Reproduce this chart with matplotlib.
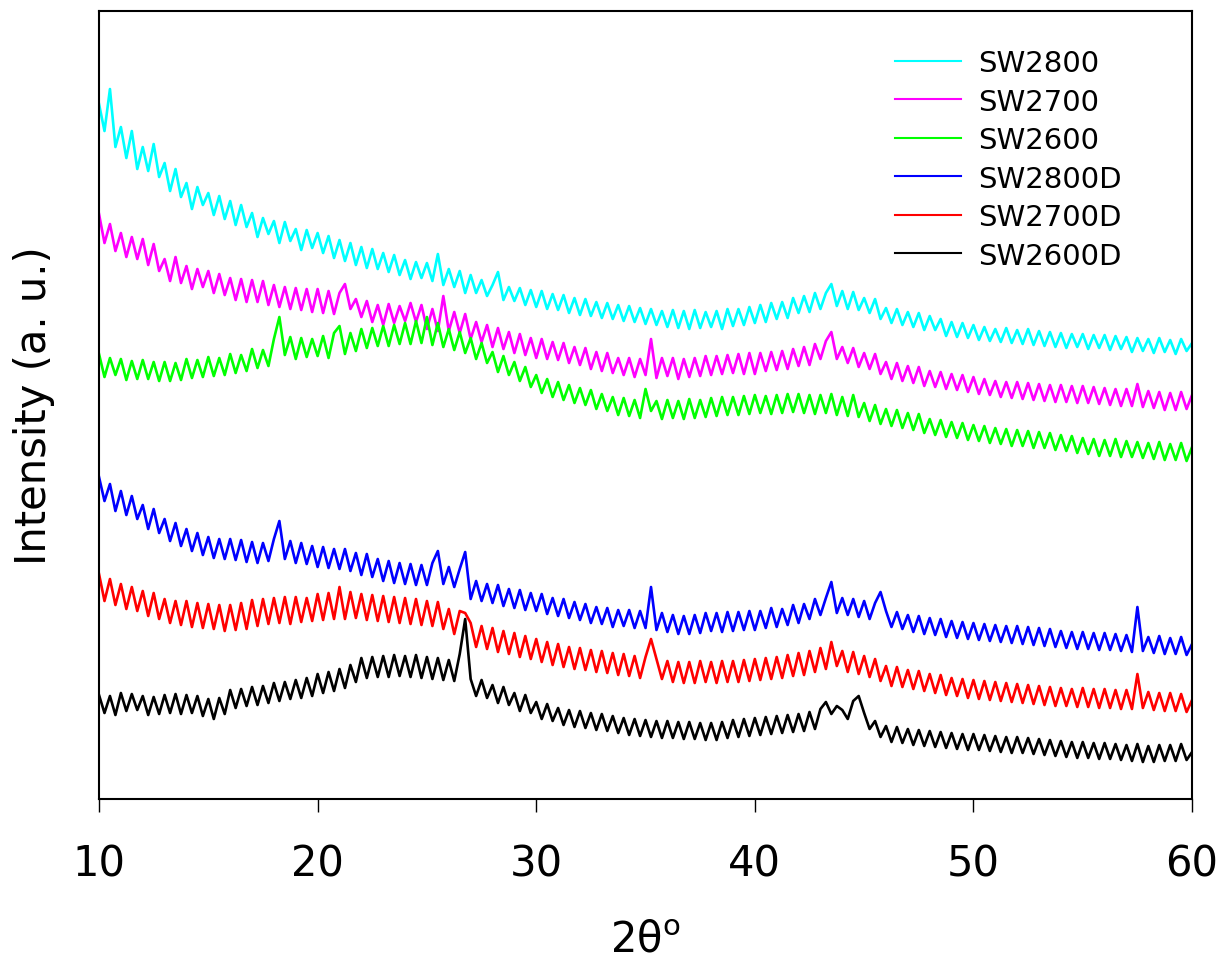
import numpy as np
import matplotlib
matplotlib.use('Agg')
from matplotlib import pyplot as plt

# 2theta scan grid, 0.25 deg steps
two_theta = np.linspace(10, 60, 201)

labels = ['SW2800', 'SW2700', 'SW2600', 'SW2800D', 'SW2700D', 'SW2600D']
colors = ['#00FFFF', '#FF00FF', '#00FF00', '#0000FF', '#FF0000', '#000000']

# intensities (a. u., offset stacked), one row per degree
sw2800 = [
    695, 668, 710, 652, 672, 641, 668, 630, 652, 628, 655, 622, 636, 608, 630, 602,
    616, 590, 612, 594, 606, 584, 603, 580, 598, 574, 594, 572, 586, 562, 581, 565,
    578, 556, 577, 558, 570, 549, 569, 551, 566, 546, 563, 541, 559, 538, 556, 534,
    552, 531, 550, 530, 546, 527, 544, 524, 539, 520, 537, 521, 536, 518, 545, 514,
    530, 512, 528, 506, 524, 506, 519, 503, 514, 527, 499, 512, 498, 511, 494, 509,
    492, 508, 490, 505, 489, 504, 486, 501, 484, 500, 483, 497, 481, 496, 480, 494,
    478, 493, 477, 491, 475, 490, 474, 488, 472, 489, 471, 488, 470, 489, 471, 487,
    472, 488, 470, 490, 473, 490, 474, 492, 476, 494, 477, 496, 480, 497, 481, 501,
    486, 503, 487, 506, 490, 506, 515, 493, 508, 490, 507, 489, 501, 486, 500, 480,
    491, 476, 490, 474, 487, 472, 486, 469, 483, 469, 480, 463, 477, 462, 476, 461,
    474, 459, 472, 458, 470, 457, 471, 456, 469, 455, 470, 454, 468, 453, 467, 452,
    466, 451, 465, 452, 465, 450, 464, 451, 464, 449, 463, 450, 462, 447, 461, 448,
    460, 446, 461, 447, 459, 445, 460, 448, 456]
sw2700 = [
    585, 556, 575, 548, 566, 542, 562, 540, 560, 534, 555, 528, 540, 518, 542, 516,
    533, 510, 530, 512, 528, 506, 525, 504, 521, 499, 520, 497, 519, 497, 518, 494,
    514, 492, 512, 490, 511, 489, 510, 487, 510, 486, 508, 485, 506, 515, 490, 500,
    482, 498, 477, 494, 474, 495, 476, 493, 478, 496, 477, 494, 470, 490, 468, 503,
    468, 487, 466, 485, 460, 477, 457, 474, 452, 471, 450, 467, 446, 465, 444, 461,
    441, 460, 440, 457, 439, 456, 436, 452, 434, 451, 430, 447, 428, 446, 426, 441,
    424, 441, 422, 440, 424, 460, 421, 441, 423, 441, 420, 440, 422, 441, 423, 443,
    424, 443, 425, 444, 426, 445, 425, 446, 425, 446, 428, 447, 429, 448, 430, 450,
    433, 452, 434, 455, 440, 458, 467, 440, 452, 436, 451, 432, 446, 430, 445, 425,
    437, 420, 436, 418, 433, 416, 432, 413, 428, 412, 427, 410, 425, 409, 424, 407,
    422, 405, 420, 404, 418, 402, 417, 401, 417, 400, 416, 399, 415, 398, 414, 397,
    414, 397, 413, 396, 413, 396, 412, 395, 411, 394, 410, 393, 410, 393, 415, 392,
    408, 391, 407, 389, 406, 389, 407, 390, 404]
sw2600 = [
    445, 422, 441, 424, 440, 419, 438, 420, 439, 420, 437, 418, 437, 418, 436, 419,
    440, 421, 439, 422, 442, 423, 441, 424, 445, 426, 444, 428, 450, 431, 449, 433,
    460, 482, 444, 462, 440, 461, 442, 460, 443, 463, 441, 466, 473, 445, 466, 448,
    470, 451, 471, 453, 473, 453, 474, 455, 476, 455, 478, 456, 482, 454, 476, 452,
    470, 449, 467, 446, 461, 440, 456, 436, 447, 427, 443, 424, 437, 418, 432, 412,
    424, 406, 420, 402, 417, 399, 414, 396, 411, 394, 409, 390, 405, 388, 402, 384,
    401, 383, 399, 381, 410, 388, 398, 380, 399, 381, 398, 380, 400, 381, 399, 382,
    401, 383, 402, 384, 402, 384, 403, 385, 404, 386, 403, 385, 404, 386, 405, 387,
    405, 386, 404, 385, 404, 386, 405, 384, 402, 383, 404, 382, 396, 378, 394, 375,
    390, 373, 389, 371, 386, 369, 385, 366, 380, 364, 379, 362, 377, 361, 376, 359,
    374, 358, 373, 356, 371, 355, 370, 353, 369, 353, 368, 351, 367, 351, 366, 349,
    364, 348, 363, 346, 361, 345, 360, 343, 359, 343, 360, 342, 358, 342, 357, 341,
    356, 340, 357, 339, 355, 339, 356, 338, 352]
sw2800d = [
    322, 298, 315, 288, 308, 284, 303, 280, 294, 270, 290, 266, 280, 258, 276, 253,
    270, 248, 266, 244, 262, 241, 260, 240, 260, 239, 259, 237, 257, 236, 256, 238,
    260, 278, 240, 258, 236, 256, 235, 253, 232, 252, 231, 250, 230, 250, 228, 246,
    224, 245, 222, 240, 218, 238, 216, 236, 215, 235, 214, 234, 214, 236, 248, 215,
    232, 212, 230, 247, 200, 218, 198, 215, 196, 214, 193, 210, 191, 209, 189, 206,
    188, 205, 185, 201, 183, 200, 181, 197, 179, 195, 176, 192, 175, 191, 172, 189,
    173, 189, 171, 188, 171, 212, 169, 186, 167, 184, 165, 183, 165, 184, 166, 186,
    168, 186, 167, 187, 168, 187, 169, 188, 169, 188, 171, 191, 172, 190, 174, 194,
    176, 195, 180, 200, 184, 201, 217, 186, 201, 184, 200, 182, 198, 180, 196, 207,
    188, 172, 187, 170, 184, 167, 183, 165, 181, 164, 180, 162, 178, 161, 177, 160,
    176, 159, 175, 158, 174, 157, 173, 156, 173, 155, 172, 154, 171, 153, 170, 152,
    168, 151, 167, 150, 167, 150, 166, 149, 166, 149, 165, 148, 164, 147, 192, 148,
    162, 146, 163, 145, 161, 145, 162, 144, 155]
sw2700d = [
    225, 198, 220, 194, 215, 190, 212, 188, 208, 183, 206, 180, 200, 176, 198, 174,
    198, 172, 196, 171, 195, 170, 194, 168, 194, 169, 196, 170, 199, 173, 200, 175,
    201, 176, 202, 175, 202, 177, 201, 178, 205, 179, 206, 180, 212, 180, 207, 181,
    205, 179, 204, 178, 203, 177, 202, 176, 201, 175, 200, 174, 198, 173, 197, 170,
    190, 165, 188, 186, 176, 152, 173, 150, 171, 147, 168, 145, 166, 142, 163, 140,
    160, 137, 157, 134, 155, 132, 152, 130, 151, 129, 149, 127, 148, 126, 146, 124,
    145, 123, 143, 121, 142, 160, 140, 120, 138, 117, 137, 116, 137, 116, 138, 117,
    137, 116, 138, 117, 138, 117, 139, 118, 140, 119, 141, 120, 142, 121, 144, 123,
    146, 124, 148, 127, 151, 130, 157, 133, 148, 127, 147, 125, 143, 122, 140, 118,
    133, 113, 132, 112, 129, 110, 128, 108, 125, 106, 124, 104, 121, 103, 120, 101,
    119, 100, 118, 99, 117, 98, 116, 97, 115, 96, 114, 95, 113, 94, 112, 93,
    111, 93, 110, 92, 111, 92, 110, 91, 110, 91, 109, 90, 109, 90, 125, 91,
    107, 89, 106, 88, 106, 88, 105, 87, 99]
sw2600d = [
    104, 86, 103, 84, 106, 88, 105, 89, 103, 84, 102, 85, 104, 86, 105, 85,
    104, 86, 103, 83, 100, 80, 101, 85, 109, 91, 110, 93, 112, 94, 113, 96,
    116, 98, 117, 100, 119, 101, 121, 103, 125, 106, 127, 108, 130, 111, 134, 117,
    141, 121, 142, 122, 143, 122, 144, 123, 143, 122, 144, 121, 142, 120, 141, 119,
    139, 118, 145, 180, 120, 103, 119, 101, 114, 96, 112, 94, 106, 88, 104, 86,
    97, 80, 95, 78, 91, 74, 89, 72, 88, 71, 86, 69, 85, 68, 83, 66,
    81, 64, 80, 63, 79, 62, 78, 61, 78, 61, 77, 60, 77, 60, 76, 59,
    76, 59, 77, 61, 79, 62, 80, 63, 81, 64, 82, 65, 83, 66, 84, 67,
    85, 68, 87, 70, 90, 97, 85, 93, 89, 80, 98, 103, 86, 70, 78, 62,
    73, 57, 72, 56, 70, 54, 69, 53, 68, 52, 67, 51, 66, 50, 65, 49,
    65, 49, 64, 48, 63, 47, 62, 46, 62, 46, 61, 45, 60, 44, 59, 43,
    58, 42, 57, 41, 57, 41, 56, 40, 56, 40, 55, 39, 54, 38, 55, 37,
    53, 37, 54, 38, 54, 38, 55, 39, 47]

series = [sw2800, sw2700, sw2600, sw2800d, sw2700d, sw2600d]

fig = plt.figure(figsize=(12.18, 9.62), dpi=100)
ax = fig.add_axes([0.0813, 0.1684, 0.8974, 0.8191])

for y, c, lab in zip(series, colors, labels):
    ax.plot(two_theta, y, color=c, lw=1.9, label=lab)

ax.set_xlim(10, 60)
ax.set_ylim(0, 788)
ax.set_xticks([10, 20, 30, 40, 50, 60])
ax.set_yticks([])
ax.tick_params(axis='x', direction='out', length=9, width=1, labelsize=30, pad=22)
for s in ax.spines.values():
    s.set_linewidth(1.5)

ax.set_xlabel(r'2$\mathregular{\theta^{o}}$', fontsize=30, labelpad=24)
ax.set_ylabel('Intensity (a. u.)', fontsize=30, labelpad=32)

leg = ax.legend(loc='upper right', frameon=False, fontsize=21, handlelength=2.25,
                handletextpad=0.6, labelspacing=0.36, bbox_to_anchor=(0.96, 0.985))
for h in leg.get_lines():
    h.set_linewidth(1.5)

plt.savefig('out.png', dpi=100)
